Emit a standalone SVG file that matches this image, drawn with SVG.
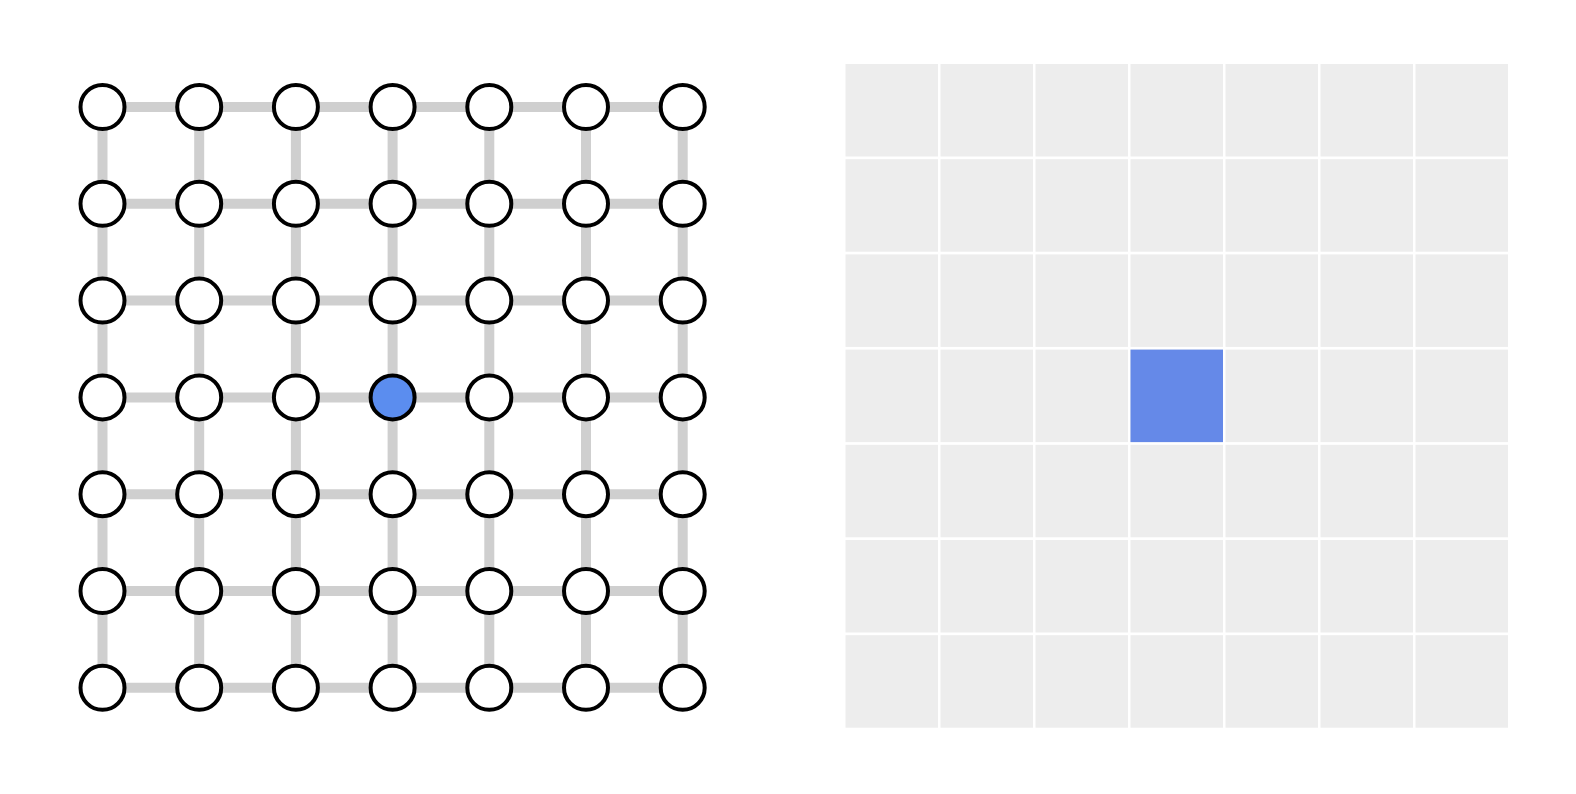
<svg xmlns="http://www.w3.org/2000/svg" width="1576" height="794" viewBox="0 0 1576 794">
<style>
.e{stroke:#cfcfcf;stroke-width:10;fill:none}
.n{fill:#fff;stroke:#000;stroke-width:4}
.a{fill:#5b8def}
.c{fill:#ededed}
.s{fill:#6589e8}
</style>
<rect width="1576" height="794" fill="#fff"/>
<g id="connectors">
<line class="e" x1="102.5" y1="107" x2="682.7" y2="107"/>
<line class="e" x1="102.5" y1="203.8" x2="682.7" y2="203.8"/>
<line class="e" x1="102.5" y1="300.6" x2="682.7" y2="300.6"/>
<line class="e" x1="102.5" y1="397.4" x2="682.7" y2="397.4"/>
<line class="e" x1="102.5" y1="494.2" x2="682.7" y2="494.2"/>
<line class="e" x1="102.5" y1="591" x2="682.7" y2="591"/>
<line class="e" x1="102.5" y1="687.8" x2="682.7" y2="687.8"/>
<line class="e" x1="102.5" y1="107" x2="102.5" y2="687.8"/>
<line class="e" x1="199.2" y1="107" x2="199.2" y2="687.8"/>
<line class="e" x1="295.9" y1="107" x2="295.9" y2="687.8"/>
<line class="e" x1="392.6" y1="107" x2="392.6" y2="687.8"/>
<line class="e" x1="489.3" y1="107" x2="489.3" y2="687.8"/>
<line class="e" x1="586" y1="107" x2="586" y2="687.8"/>
<line class="e" x1="682.7" y1="107" x2="682.7" y2="687.8"/>
</g>
<g id="nodes">
<g id="r0"><circle class="n" cx="102.5" cy="107" r="22"/><circle class="n" cx="199.2" cy="107" r="22"/><circle class="n" cx="295.9" cy="107" r="22"/><circle class="n" cx="392.6" cy="107" r="22"/><circle class="n" cx="489.3" cy="107" r="22"/><circle class="n" cx="586" cy="107" r="22"/><circle class="n" cx="682.7" cy="107" r="22"/></g>
<g id="r1"><circle class="n" cx="102.5" cy="203.8" r="22"/><circle class="n" cx="199.2" cy="203.8" r="22"/><circle class="n" cx="295.9" cy="203.8" r="22"/><circle class="n" cx="392.6" cy="203.8" r="22"/><circle class="n" cx="489.3" cy="203.8" r="22"/><circle class="n" cx="586" cy="203.8" r="22"/><circle class="n" cx="682.7" cy="203.8" r="22"/></g>
<g id="r2"><circle class="n" cx="102.5" cy="300.6" r="22"/><circle class="n" cx="199.2" cy="300.6" r="22"/><circle class="n" cx="295.9" cy="300.6" r="22"/><circle class="n" cx="392.6" cy="300.6" r="22"/><circle class="n" cx="489.3" cy="300.6" r="22"/><circle class="n" cx="586" cy="300.6" r="22"/><circle class="n" cx="682.7" cy="300.6" r="22"/></g>
<g id="r3"><circle class="n" cx="102.5" cy="397.4" r="22"/><circle class="n" cx="199.2" cy="397.4" r="22"/><circle class="n" cx="295.9" cy="397.4" r="22"/><circle id="center-node" class="n a" cx="392.6" cy="397.4" r="22"/><circle class="n" cx="489.3" cy="397.4" r="22"/><circle class="n" cx="586" cy="397.4" r="22"/><circle class="n" cx="682.7" cy="397.4" r="22"/></g>
<g id="r4"><circle class="n" cx="102.5" cy="494.2" r="22"/><circle class="n" cx="199.2" cy="494.2" r="22"/><circle class="n" cx="295.9" cy="494.2" r="22"/><circle class="n" cx="392.6" cy="494.2" r="22"/><circle class="n" cx="489.3" cy="494.2" r="22"/><circle class="n" cx="586" cy="494.2" r="22"/><circle class="n" cx="682.7" cy="494.2" r="22"/></g>
<g id="r5"><circle class="n" cx="102.5" cy="591" r="22"/><circle class="n" cx="199.2" cy="591" r="22"/><circle class="n" cx="295.9" cy="591" r="22"/><circle class="n" cx="392.6" cy="591" r="22"/><circle class="n" cx="489.3" cy="591" r="22"/><circle class="n" cx="586" cy="591" r="22"/><circle class="n" cx="682.7" cy="591" r="22"/></g>
<g id="r6"><circle class="n" cx="102.5" cy="687.8" r="22"/><circle class="n" cx="199.2" cy="687.8" r="22"/><circle class="n" cx="295.9" cy="687.8" r="22"/><circle class="n" cx="392.6" cy="687.8" r="22"/><circle class="n" cx="489.3" cy="687.8" r="22"/><circle class="n" cx="586" cy="687.8" r="22"/><circle class="n" cx="682.7" cy="687.8" r="22"/></g>
</g>
<g id="grid">
<defs>
<g id="row">
<rect class="c" x="845.5" y="0" width="92.5" height="92.5"/>
<rect class="c" x="940.5" y="0" width="92.5" height="92.5"/>
<rect class="c" x="1035.5" y="0" width="92.5" height="92.5"/>
<rect class="c" x="1130.5" y="0" width="92.5" height="92.5"/>
<rect class="c" x="1225.5" y="0" width="92.5" height="92.5"/>
<rect class="c" x="1320.5" y="0" width="92.5" height="92.5"/>
<rect class="c" x="1415.5" y="0" width="92.5" height="92.5"/>
</g>
</defs>
<use href="#row" y="64"/>
<use href="#row" y="159.2"/>
<use href="#row" y="254.4"/>
<use href="#row" y="349.6"/>
<use href="#row" y="444.8"/>
<use href="#row" y="540"/>
<use href="#row" y="635.2"/>
<rect id="center-cell" class="s" x="1130.5" y="349.6" width="92.5" height="92.5"/>
</g>
</svg>
